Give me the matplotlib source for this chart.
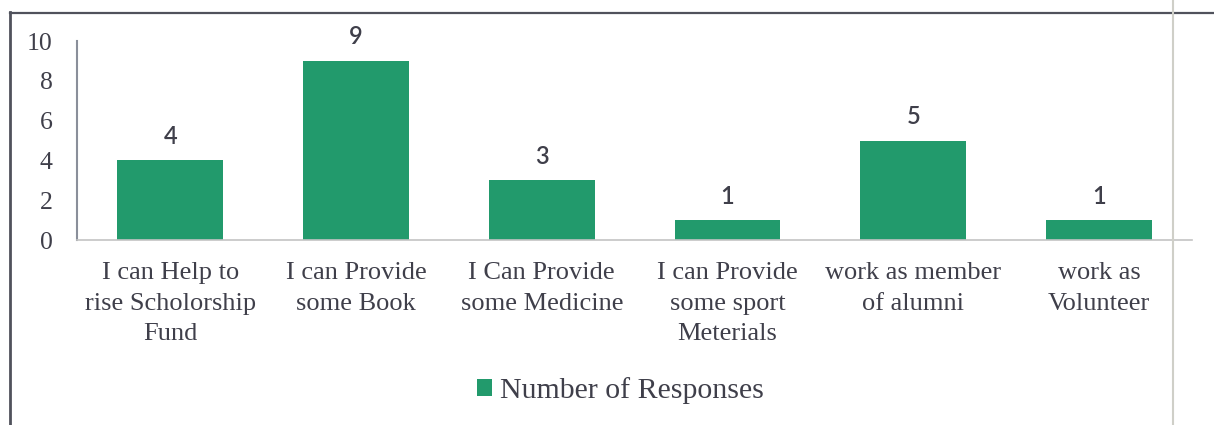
import matplotlib
matplotlib.use("Agg")
import matplotlib.pyplot as plt
from matplotlib.lines import Line2D
from matplotlib.patches import Patch

categories = [
    "I can Help to\nrise Scholorship\nFund",
    "I can Provide\nsome Book",
    "I Can Provide\nsome Medicine",
    "I can Provide\nsome sport\nMeterials",
    "work as member\nof alumni",
    "work as\nVolunteer",
]
responses = [4, 9, 3, 1, 5, 1]
y_ticks = [0, 2, 4, 6, 8, 10]
series_name = "Number of Responses"

bar_color = "#229a6c"
text_color = "#3f3f4a"
serif = ["Liberation Serif", "DejaVu Serif"]

fig = plt.figure(figsize=(12.14, 4.25), dpi=100)
ax = fig.add_axes([0.0638, 0.435, 0.918, 0.4685])

x = list(range(len(categories)))
bars = ax.bar(x, responses, width=0.57, color=bar_color, zorder=2)

ax.set_xlim(-0.5, len(categories) - 0.5)
ax.set_ylim(0, 10)
ax.set_yticks(y_ticks)
ax.set_yticklabels([str(t) for t in y_ticks], family=serif, fontsize=18.5,
                   color=text_color)
ax.set_xticks(x)
ax.set_xticklabels(categories, family=serif, fontsize=19, color=text_color,
                   linespacing=1.48)
ax.tick_params(axis="x", length=0, pad=16)
ax.tick_params(axis="y", length=0, pad=18)

for side in ("top", "right"):
    ax.spines[side].set_visible(False)
ax.spines["left"].set_color("#8a8f9a")
ax.spines["left"].set_linewidth(1.5)
ax.spines["bottom"].set_color("#c4c4c4")
ax.spines["bottom"].set_linewidth(1.2)

for rect, val in zip(bars, responses):
    ax.annotate(str(val), (rect.get_x() + rect.get_width() / 2, val),
                xytext=(0, 9), textcoords="offset points",
                ha="center", va="bottom", fontsize=17, family="Lato",
                fontweight="semibold", color=text_color)

handle = Patch(facecolor=bar_color, edgecolor="none")
fig.legend([handle], [series_name], loc="center", bbox_to_anchor=(0.511, 0.081),
           frameon=False, prop={"family": serif, "size": 21.5},
           handlelength=0.5, handleheight=0.5, handletextpad=0.25,
           labelcolor=text_color)

# page frame and column rule around the chart
fig.add_artist(Line2D([10 / 1214, 10 / 1214], [0, 1 - 12 / 425],
                      transform=fig.transFigure, color="#50525c", lw=2))
fig.add_artist(Line2D([10 / 1214, 1], [1 - 13 / 425, 1 - 13 / 425],
                      transform=fig.transFigure, color="#50525c", lw=1.6))
fig.add_artist(Line2D([1173 / 1214, 1173 / 1214], [0, 1],
                      transform=fig.transFigure, color="#cfcfc8", lw=1.5))

fig.savefig("out.png", dpi=100, facecolor="white")
